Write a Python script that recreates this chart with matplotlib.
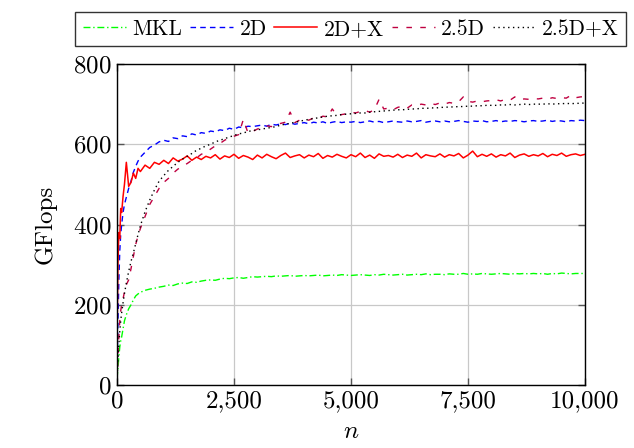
#! /usr/bin/env python3

import matplotlib
matplotlib.use("Agg")
import matplotlib.pyplot as plt
from matplotlib.ticker import FuncFormatter

# sampling grid (matrix size n)
n = [0, 20, 40, 60, 80, 100, 130, 160, 200, 250, 300, 350, 400, 450, 500,
     600, 700, 800, 900] + list(range(1000, 10001, 100))

mkl = [15, 40, 70, 95, 110, 120, 140, 160, 175, 190, 200, 212, 222, 227, 231,
       236, 239, 241, 244,
       246, 249, 248, 252, 254, 253, 257, 256, 259, 261,
       262, 261, 264, 266, 265, 267, 268, 266, 268, 270,
       269, 270, 271, 270, 272, 271, 272, 273, 271, 272,
       273, 272, 273, 274, 272, 273, 274, 273, 275, 274,
       273, 274, 275, 274, 273, 275, 274, 276, 275, 274,
       275, 276, 274, 275, 276, 275, 277, 275, 276, 276,
       275, 277, 276, 276, 278, 276, 277, 276, 278, 277,
       276, 277, 278, 277, 276, 278, 277, 278, 277, 278,
       277, 278, 276, 278, 277, 279, 278, 277, 278, 278,
       278]

d2 = [20, 150, 260, 335, 375, 400, 430, 450, 468, 490, 508, 530, 545, 558, 568,
      580, 592, 598, 606,
      610, 607, 616, 614, 621, 619, 626, 623, 629, 627,
      633, 631, 636, 634, 640, 637, 643, 641, 645, 644,
      646, 648, 645, 650, 648, 651, 649, 653, 650, 652,
      654, 651, 655, 653, 656, 652, 655, 657, 654, 656,
      655, 657, 654, 656, 658, 655, 657, 654, 656, 658,
      656, 655, 658, 656, 657, 659, 655, 657, 658, 656,
      658, 656, 657, 659, 657, 655, 658, 657, 659, 656,
      657, 659, 656, 658, 657, 659, 658, 656, 658, 659,
      657, 658, 660, 657, 659, 658, 656, 659, 658, 660,
      659]

d2x = [100, 300, 380, 365, 440, 430, 470, 500, 555, 495, 505, 528, 515, 540, 532,
       548, 540, 555, 550,
       560, 552, 566, 558, 563, 571, 560, 568, 562, 570,
       566, 574, 563, 571, 567, 575, 565, 572, 568, 562,
       573, 566, 575, 569, 564, 572, 578, 567, 571, 574,
       566, 573, 569, 577, 565, 572, 568, 575, 570, 566,
       574, 569, 578, 567, 573, 565, 576, 570, 572, 568,
       575, 567, 573, 570, 578, 566, 574, 571, 569, 576,
       568, 574, 571, 577, 566, 573, 583, 569, 575, 570,
       576, 568, 574, 571, 578, 567, 573, 576, 570, 574,
       571, 577, 569, 575, 572, 578, 570, 574, 576, 572,
       575]

d25 = [10, 70, 120, 160, 185, 200, 215, 232, 250, 262, 290, 320, 350, 372, 390,
       420, 450, 470, 490,
       505, 515, 528, 538, 545, 552, 560, 566, 575, 580,
       588, 596, 602, 610, 616, 620, 624, 662, 628, 632,
       638, 642, 646, 644, 650, 652, 655, 680, 654, 660,
       662, 660, 666, 664, 670, 668, 688, 672, 674, 676,
       680, 678, 682, 684, 680, 686, 712, 688, 690, 686,
       692, 695, 690, 698, 696, 700, 698, 702, 699, 703,
       700, 704, 702, 706, 718, 707, 705, 708, 706, 708,
       709, 711, 708, 712, 710, 718, 711, 713, 712, 714,
       713, 715, 712, 716, 714, 716, 715, 722, 716, 718,
       719]

d25x = [10, 60, 100, 135, 160, 180, 205, 228, 254, 283, 308, 329, 352, 375, 397,
        432, 461, 486, 508,
        522, 535, 545, 555, 563, 570, 577, 585, 590, 596,
        600, 606, 610, 614, 618, 622, 626, 628, 632, 634,
        636, 638, 640, 642, 644, 648, 650, 652, 655, 657,
        660, 662, 664, 666, 668, 670, 671, 672, 674, 675,
        676, 677, 678, 678, 680, 681, 682, 683, 684, 685,
        686, 686, 687, 688, 688, 690, 689, 691, 690, 692,
        692, 693, 693, 694, 694, 695, 695, 696, 696, 697,
        697, 697, 698, 698, 699, 698, 699, 700, 699, 700,
        700, 700, 701, 700, 701, 701, 702, 701, 702, 702,
        703]

plt.rcParams.update({
    "font.family": "cmr10",
    "mathtext.fontset": "cm",
    "axes.formatter.use_mathtext": True,
    "font.size": 18,
})

fig = plt.figure(figsize=(6.34, 4.48), dpi=100)
ax = fig.add_axes([0.1845, 0.1406, 0.7382, 0.7165])

lw = 1.0
ax.plot(n, mkl, color="#00ff00", lw=lw, dashes=(5, 2, 1, 2), label="MKL")
ax.plot(n, d2, color="#0000ff", lw=lw, dashes=(4, 3), label="2D")
ax.plot(n, d2x, color="#ff0000", lw=1.1, label="2D+X")
ax.plot(n, d25, color="#bf0040", lw=lw, dashes=(4, 6), label="2.5D")
ax.plot(n, d25x, color="black", lw=lw, dashes=(1, 2.5), label="2.5D+X")

ax.set_xlim(0, 10000)
ax.set_ylim(0, 800)
ax.set_xticks([0, 2500, 5000, 7500, 10000])
ax.set_yticks([0, 200, 400, 600, 800])
ax.xaxis.set_major_formatter(FuncFormatter(lambda v, p: f"{v:,.0f}"))
ax.grid(True, color="#c8c8c8", lw=0.9)
ax.set_axisbelow(True)
ax.tick_params(direction="in", length=5, width=1, color="#555555",
               top=True, right=True, pad=4)
for s in ax.spines.values():
    s.set_linewidth(1.0)

ax.set_xlabel("$n$", labelpad=6)
ax.set_ylabel("GFlops", labelpad=12)

leg = ax.legend(loc="lower center", bbox_to_anchor=(0.5, 1.055), ncol=5,
                fontsize=15.5, frameon=True, fancybox=False, edgecolor="black",
                handlelength=2.0, handletextpad=0.3, columnspacing=0.35,
                borderpad=0.35, borderaxespad=0)
leg.get_frame().set_linewidth(1.0)

fig.savefig("out.png")
plt.close(fig)
